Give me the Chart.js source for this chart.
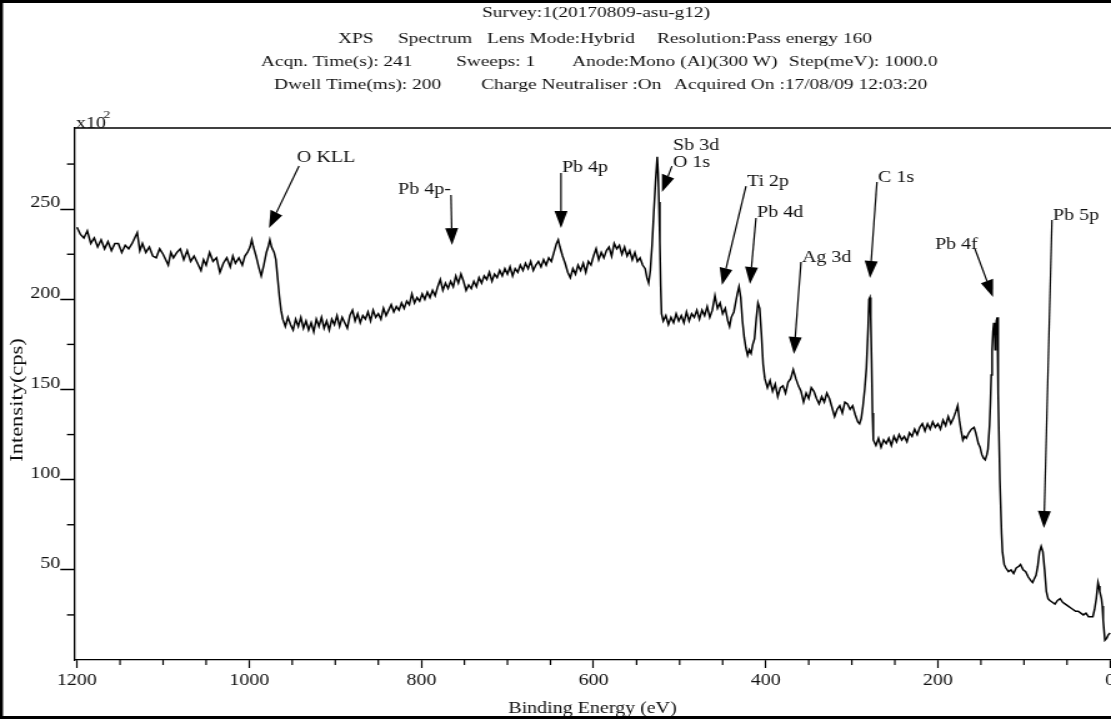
<!DOCTYPE html>
<html>
<head>
<meta charset="utf-8">
<script src="https://cdn.jsdelivr.net/npm/chart.js@4.4.1/dist/chart.umd.min.js"></script>
<style>
  html, body { margin: 0; padding: 0; background: #fff; overflow: hidden; }
  /* the source print is stretched sideways, so the whole canvas is too */
  #wrap { position: absolute; left: 0; top: 0; width: 889px; height: 719px;
          transform: scaleX(1.2497); transform-origin: 0 0; }
  canvas { display: block; }
</style>
</head>
<body>
<div id="wrap"><canvas id="chart" width="889" height="719"></canvas></div>
<script>
const STRETCH = 1111 / 889
const SERIF = "'Liberation Serif', 'Times New Roman', serif"

const energy = [
    1200, 1196, 1192, 1188, 1184, 1180, 1176, 1172, 1168, 1164, 1160, 1156, 1152, 1148, 1144, 1140, 1136, 1132, 1130, 1127,
    1124, 1120, 1116, 1112, 1108, 1104, 1100, 1096, 1094, 1091, 1088, 1084, 1080, 1076, 1072, 1068, 1064, 1060, 1056, 1053,
    1050, 1046, 1042, 1038, 1034, 1030, 1026, 1022, 1019, 1016, 1012, 1008, 1005, 1002, 999, 997, 995, 992, 989, 986,
    983, 980, 978, 976, 974, 971, 969, 967, 965, 963, 961, 958, 955, 952, 949, 946, 943, 940, 937, 934,
    931, 928, 925, 922, 919, 916, 913, 910, 907, 904, 901, 898, 895, 892, 889, 886, 883, 880, 877, 874,
    871, 868, 865, 862, 859, 856, 853, 850, 847, 844, 841, 838, 835, 832, 829, 826, 823, 820, 817, 814,
    811, 808, 805, 802, 799, 796, 793, 790, 787, 784, 781, 778, 775, 772, 769, 766, 763, 760, 757, 754,
    751, 748, 745, 742, 739, 736, 733, 730, 727, 724, 721, 718, 715, 712, 709, 706, 703, 700, 697, 694,
    691, 688, 685, 682, 679, 676, 673, 670, 667, 664, 661, 658, 655, 652, 649, 646, 643, 641, 639, 636,
    633, 630, 627, 624, 621, 618, 615, 612, 609, 606, 603, 600, 597, 594, 591, 588, 585, 582, 579, 576,
    573, 570, 567, 564, 561, 558, 555, 552, 549, 546, 543, 540, 538, 536, 534, 532, 530, 528, 526, 525,
    524, 523, 522, 521, 519, 516, 513, 510, 507, 504, 501, 498, 495, 492, 489, 486, 483, 480, 477, 474,
    471, 468, 465, 462, 459, 456, 453, 450, 447, 444, 442, 440, 437, 435, 433, 431, 429, 427, 425, 423,
    421, 419, 417, 415, 413, 411, 409, 407, 405, 403, 401, 398, 395, 392, 389, 386, 383, 380, 377, 374,
    371, 368, 365, 362, 359, 356, 353, 350, 347, 344, 341, 338, 335, 332, 329, 326, 323, 320, 317, 314,
    311, 308, 305, 302, 299, 296, 293, 291, 289, 287, 285, 283, 281, 280, 279, 278, 277, 276, 275, 272,
    269, 266, 263, 260, 257, 254, 251, 248, 245, 242, 239, 236, 233, 230, 227, 224, 221, 218, 215, 212,
    209, 206, 203, 200, 197, 194, 191, 188, 185, 182, 179, 177, 175, 173, 171, 169, 167, 164, 161, 158,
    156, 153, 151, 149, 147, 145, 143, 141.8, 140, 139, 138, 137, 136, 135, 134, 133.5, 133, 132, 131, 130,
    128, 126, 125, 123, 121, 118, 115, 112, 109, 106, 104, 101, 98, 95, 92, 90, 88, 86, 84, 82,
    80, 78, 76, 74, 72, 70, 67, 64, 61, 58, 55, 52, 49, 46, 43, 40, 37, 34, 31, 28,
    25, 22, 20, 18, 16, 14, 13, 12, 10, 9, 8, 6, 4, 2, 0,
]
const intensity = [
    240, 236, 234, 238, 231, 234, 229, 233, 228, 232, 227, 231, 231, 226, 230, 228, 231, 235, 237, 227,
    231, 226, 229, 224, 223, 228, 225, 221, 219, 226, 223, 226, 228, 222, 227, 221, 224, 220, 216, 222,
    219, 226, 221, 223, 215, 220, 223, 218, 224, 220, 223, 219, 224, 226, 229, 233, 229, 224, 218, 213,
    219, 226, 229, 233, 229, 226, 222, 212, 202, 194, 189, 185, 190, 186, 183, 189, 185, 190, 184, 188,
    183, 187, 182, 189, 185, 190, 184, 188, 183, 189, 186, 191, 185, 190, 187, 184, 191, 194, 188, 192,
    187, 191, 189, 193, 188, 194, 190, 192, 189, 195, 191, 194, 197, 193, 196, 194, 198, 195, 199, 197,
    203, 198, 201, 199, 203, 200, 204, 201, 205, 202, 207, 211, 205, 209, 206, 210, 207, 213, 209, 214,
    210, 205, 208, 206, 210, 207, 212, 209, 213, 211, 215, 210, 214, 212, 216, 213, 217, 214, 218, 213,
    217, 215, 219, 216, 220, 217, 221, 216, 219, 221, 218, 222, 219, 223, 221, 226, 231, 233, 229, 224,
    220, 215, 212, 217, 214, 219, 216, 220, 215, 221, 219, 224, 228, 222, 226, 223, 227, 229, 224, 231,
    228, 230, 225, 229, 224, 227, 222, 226, 221, 223, 219, 217, 212, 209, 216, 230, 248, 265, 279, 270,
    254, 232, 208, 192, 188, 191, 186, 190, 187, 192, 188, 191, 187, 193, 188, 192, 190, 194, 189, 194,
    191, 196, 190, 194, 202, 195, 198, 192, 195, 188, 185, 190, 193, 198, 203, 207, 201, 188, 179, 173,
    169, 172, 170, 175, 178, 189, 198, 195, 181, 164, 156, 151, 155, 149, 153, 146, 151, 152, 148, 154,
    156, 161, 156, 152, 149, 143, 148, 145, 151, 149, 145, 142, 146, 143, 148, 145, 140, 135, 139, 141,
    137, 143, 142, 139, 141, 136, 132, 131, 134, 141, 150, 162, 185, 200, 201, 190, 166, 137, 122, 119,
    123, 118, 122, 120, 123, 119, 124, 121, 125, 122, 124, 121, 126, 124, 128, 125, 129, 131, 127, 131,
    128, 132, 129, 131, 128, 133, 130, 135, 131, 134, 138, 141, 133, 127, 122, 124, 123, 126, 128, 129,
    126, 120, 118, 114, 112, 111, 114, 117, 130, 142, 158, 172, 182, 187, 181, 172, 180, 188, 190, 148,
    100, 70, 60, 53, 51, 49, 50, 48, 51, 52, 53, 50, 49, 46, 44, 43, 45, 47, 52, 60,
    63, 60, 50, 38, 34, 33, 32, 31, 33, 34, 32, 31, 30, 29, 28, 27, 27, 26, 25, 26,
    24, 24, 24, 28, 34, 43, 41, 38, 34, 30, 22, 11, 12, 14, 15,
]
const xTicks = [1200, 1000, 800, 600, 400, 200, 0]
const xMinorTicks = [1150, 1100, 1050, 950, 900, 850, 750, 700, 650, 550, 500, 450, 350, 300, 250, 150, 100, 50]
const yTicks = [50, 100, 150, 200, 250]
const yMinorTicks = [25, 75, 125, 175, 225, 275]

// peak call-outs: label anchor, arrow start and arrow tip in (eV, x10^2 cps)
const callouts = [
    {text: ['O KLL'], at: [944.5, 278.4], from: [942.1, 273.9], to: [977.0, 239.6]},
    {text: ['Pb 4p-'], at: [827.1, 260.6], from: [765.6, 257.8], to: [764.4, 230.1]},
    {text: ['Pb 4p'], at: [636.6, 272.8], from: [637.8, 270.0], to: [637.8, 239.5]},
    {text: ['Sb 3d', 'O 1s'], at: [507.7, 285.0], from: [508.9, 273.9], to: [520.5, 259.5]},
    {text: ['Ti 2p'], at: [421.8, 265.1], from: [422.9, 262.8], to: [450.8, 207.9]},
    {text: ['Pb 4d'], at: [410.1, 247.9], from: [411.3, 245.1], to: [418.3, 208.5]},
    {text: ['Ag 3d'], at: [357.9, 222.9], from: [359.0, 220.7], to: [367.2, 169.7]},
    {text: ['C 1s'], at: [269.6, 267.3], from: [270.8, 265.1], to: [278.9, 211.8]},
    {text: ['Pb 4f'], at: [203.4, 230.1], from: [156.9, 227.9], to: [136.0, 201.3]},
    {text: ['Pb 5p'], at: [66.3, 246.2], from: [67.5, 244.0], to: [76.8, 73.2]},
]

// instrument header, [text, left edge in picture px]
const header = [
    {y: 13, items: [['Survey:1(20170809-asu-g12)', 482]]},
    {y: 39, items: [['XPS', 338], ['Spectrum', 398], ['Lens Mode:Hybrid', 487], ['Resolution:Pass energy 160', 657]]},
    {y: 62, items: [['Acqn. Time(s): 241', 261], ['Sweeps: 1', 456], ['Anode:Mono (Al)(300 W)', 572], ['Step(meV): 1000.0', 789]]},
    {y: 85, items: [['Dwell Time(ms): 200', 274], ['Charge Neutraliser :On', 481], ['Acquired On :17/08/09 12:03:20', 674]]},
]

function drawArrow(ctx, x0, y0, x1, y1) {
    // head is built in picture space so it keeps its shape after the stretch
    const ax = x0 * STRETCH, bx = x1 * STRETCH
    const dx = bx - ax, dy = y1 - y0
    const len = Math.hypot(dx, dy)
    const ux = dx / len, uy = dy / len
    const hl = 17, hw = 6.5
    const baseX = bx - ux * hl, baseY = y1 - uy * hl
    ctx.beginPath()
    ctx.moveTo(x0, y0)
    ctx.lineTo(baseX / STRETCH, baseY)
    ctx.stroke()
    ctx.beginPath()
    ctx.moveTo(x1, y1)
    ctx.lineTo((baseX - uy * hw) / STRETCH, baseY + ux * hw)
    ctx.lineTo((baseX + uy * hw) / STRETCH, baseY - ux * hw)
    ctx.closePath()
    ctx.fill()
}

const decor = {
    id: 'decor',
    afterDraw(chart) {
        const {ctx, chartArea, scales: {x, y}} = chart
        ctx.save()
        ctx.strokeStyle = '#000'
        ctx.fillStyle = '#111'

        // top edge of the plot frame
        ctx.lineWidth = 1.3
        ctx.beginPath()
        ctx.moveTo(chartArea.left, chartArea.top)
        ctx.lineTo(chartArea.right + 2, chartArea.top)
        ctx.stroke()

        // minor ticks
        ctx.lineWidth = 1.2
        xMinorTicks.forEach(v => {
            const px = x.getPixelForValue(v)
            ctx.beginPath()
            ctx.moveTo(px, chartArea.bottom)
            ctx.lineTo(px, chartArea.bottom + 5)
            ctx.stroke()
        })
        ctx.lineWidth = 1.4
        yMinorTicks.forEach(v => {
            const py = y.getPixelForValue(v)
            ctx.beginPath()
            ctx.moveTo(chartArea.left, py)
            ctx.lineTo(chartArea.left - 5.6, py)
            ctx.stroke()
        })

        // header
        ctx.font = `15.5px ${SERIF}`
        ctx.textBaseline = 'middle'
        ctx.textAlign = 'left'
        header.forEach(row => row.items.forEach(([t, left]) => ctx.fillText(t, left / STRETCH, row.y)))

        // scale factor
        ctx.font = `16px ${SERIF}`
        ctx.fillText('x10', 76 / STRETCH, 124)
        ctx.font = `11px ${SERIF}`
        ctx.fillText('2', 103.5 / STRETCH, 115)

        // axis title, long and thin like the print
        ctx.save()
        ctx.font = `15px ${SERIF}`
        ctx.translate(17 / STRETCH, (chartArea.top + chartArea.bottom) / 2 + 6)
        ctx.rotate(-Math.PI / 2)
        ctx.scale(1.5, 1)
        ctx.textAlign = 'center'
        ctx.fillText('Intensity(cps)', 0, 0)
        ctx.restore()

        // peak call-outs
        ctx.font = `16px ${SERIF}`
        ctx.lineWidth = 1.2
        callouts.forEach(c => {
            const tx = x.getPixelForValue(c.at[0]), ty = y.getPixelForValue(c.at[1])
            ctx.fillStyle = '#111'
            c.text.forEach((t, i) => ctx.fillText(t, tx, ty + i * 17))
            ctx.fillStyle = '#000'
            drawArrow(ctx,
                x.getPixelForValue(c.from[0]), y.getPixelForValue(c.from[1]),
                x.getPixelForValue(c.to[0]), y.getPixelForValue(c.to[1]))
        })

        // outer border of the print
        ctx.fillStyle = '#000'
        ctx.fillRect(0, 0, 2.4, chart.height)
        ctx.fillRect(0, 0, chart.width, 3)
        ctx.fillRect(0, chart.height - 3, chart.width, 3)
        ctx.restore()
    },
}

const tickFont = {family: SERIF, size: 16}

new Chart(document.getElementById('chart'), {
    type: 'line',
    data: {
        datasets: [{
            data: energy.map((e, i) => ({x: e, y: intensity[i]})),
            borderColor: '#000',
            borderWidth: 1.5,
            pointRadius: 0,
            tension: 0,
            fill: false,
        }],
    },
    options: {
        responsive: false,
        animation: false,
        devicePixelRatio: 1,
        layout: {padding: {top: 128, left: 0, right: 0, bottom: 0}},
        plugins: {legend: {display: false}, tooltip: {enabled: false}},
        scales: {
            x: {
                type: 'linear',
                reverse: true,
                min: -1.1,
                max: 1203.5,
                afterBuildTicks: s => { s.ticks = xTicks.map(v => ({value: v})) },
                afterFit: s => { s.height = 59; s.paddingLeft = 0; s.paddingRight = 0 },
                border: {color: '#000', width: 1.2},
                grid: {drawOnChartArea: false, tickLength: 8, tickColor: '#000', tickWidth: 1.2},
                ticks: {color: '#111', font: tickFont, padding: 3, maxRotation: 0, autoSkip: false, callback: v => String(v)},
                title: {display: true, text: 'Binding Energy (eV)', color: '#111', font: tickFont, padding: {top: 0, bottom: 1}},
            },
            y: {
                min: 0,
                max: 295,
                afterBuildTicks: s => { s.ticks = yTicks.map(v => ({value: v})) },
                afterFit: s => { s.width = 59.2; s.paddingTop = 0; s.paddingBottom = 0 },
                border: {color: '#000', width: 1.3},
                grid: {drawOnChartArea: false, tickLength: 11, tickColor: '#000', tickWidth: 1.5},
                ticks: {color: '#111', font: tickFont, padding: 0, labelOffset: -6, callback: v => String(v)},
                title: {display: false},
            },
        },
    },
    plugins: [decor],
})
</script>
</body>
</html>
